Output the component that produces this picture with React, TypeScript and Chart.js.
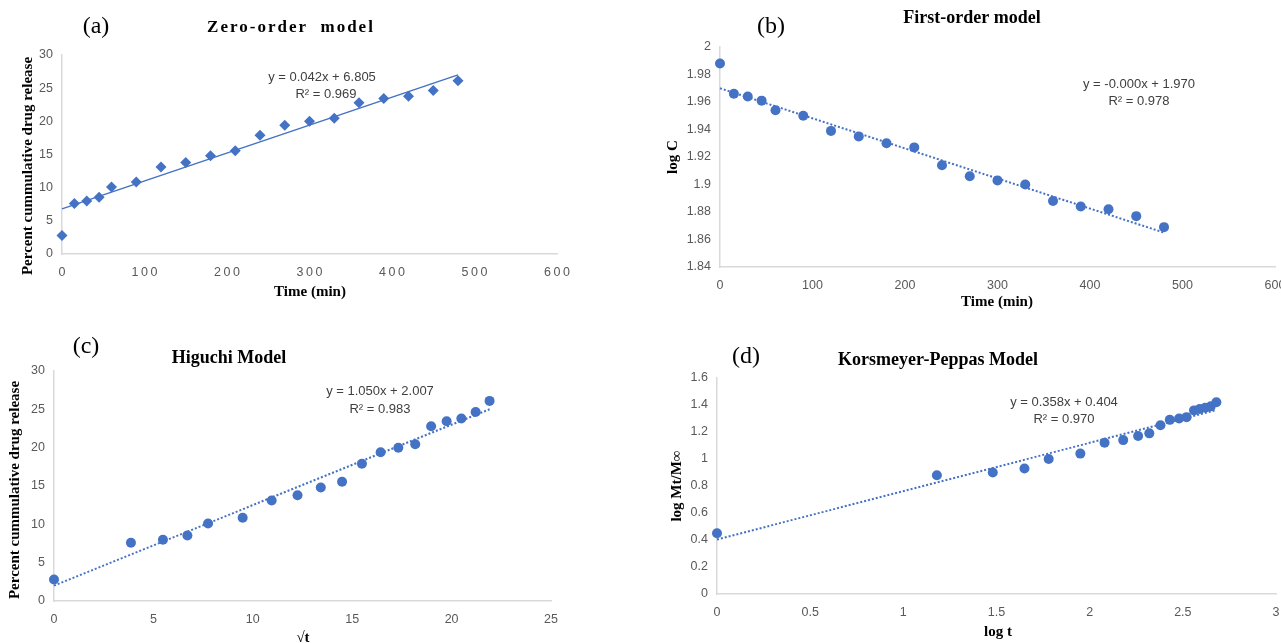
import React, { useEffect, useRef } from "react";
import { Chart, registerables } from "chart.js";

Chart.register(...registerables);

// ---------- data ----------
const timeMin = [0, 15, 30, 45, 60, 90, 120, 150, 180, 210, 240, 270, 300, 330, 360, 390, 420, 450, 480];
const releasePct = [2.8, 7.6, 8.0, 8.55, 10.1, 10.85, 13.1, 13.8, 14.8, 15.55, 17.9, 19.4, 20.0, 20.45, 22.8, 23.45, 23.8, 24.65, 26.1];
const logC = [1.988, 1.966, 1.964, 1.961, 1.954, 1.950, 1.939, 1.935, 1.930, 1.927, 1.914, 1.906, 1.903, 1.900, 1.888, 1.884, 1.882, 1.877, 1.869];
const sqrtT = [0, 3.87, 5.48, 6.71, 7.75, 9.49, 10.95, 12.25, 13.42, 14.49, 15.49, 16.43, 17.32, 18.17, 18.97, 19.75, 20.49, 21.21, 21.91];
const higuchiRelease = [2.8, 7.6, 8.0, 8.55, 10.1, 10.85, 13.1, 13.8, 14.8, 15.55, 17.9, 19.4, 20.0, 20.45, 22.8, 23.45, 23.8, 24.65, 26.1];
const logT = [0, 1.18, 1.48, 1.65, 1.78, 1.95, 2.08, 2.18, 2.26, 2.32, 2.38, 2.43, 2.48, 2.52, 2.56, 2.59, 2.62, 2.65, 2.68];
const logMtMinf = [0.45, 0.88, 0.90, 0.93, 1.0, 1.04, 1.12, 1.14, 1.17, 1.19, 1.25, 1.29, 1.30, 1.31, 1.36, 1.37, 1.38, 1.39, 1.42];

const zeroTrendX = [0, 480];
const zeroTrendY = [6.805, 27.0];
const firstTrendX = [0, 480];
const firstTrendY = [1.970, 1.865];
const higuchiTrendX = [0, 21.91];
const higuchiTrendY = [2.007, 25.01];
const kpTrendX = [0, 2.68];
const kpTrendY = [0.404, 1.363];

const zeroEq = ["y = 0.042x + 6.805", "R² = 0.969"];
const firstEq = ["y = -0.000x + 1.970", "R² = 0.978"];
const higuchiEq = ["y = 1.050x + 2.007", "R² = 0.983"];
const kpEq = ["y = 0.358x + 0.404", "R² = 0.970"];

const titles = ["Zero-order  model", "First-order model", "Higuchi Model", "Korsmeyer-Peppas Model"];
const panelLabels = ["(a)", "(b)", "(c)", "(d)"];
const xTitles = ["Time (min)", "Time (min)", "√t", "log t"];
const yTitles = ["Percent cummulative drug release", "log C", "Percent cummulative drug release", "log Mt/M∞"];

// ---------- styling ----------
const BLUE = "#4472C4";
const TICK_COLOR = "#595959";
const AXIS_COLOR = "#d9d9d9";
const SERIF = "'Liberation Serif', 'Times New Roman', serif";
const SANS = "'Liberation Sans', Arial, sans-serif";

type T = { text: string; x: number; y: number; font: string; color?: string; rotate?: boolean; spacing?: number };

type Panel = {
  left: number; top: number; width: number; height: number;
  area: { l: number; t: number; r: number; b: number };
  xMin: number; xMax: number; xStep: number;
  yMin: number; yMax: number; yStep: number;
  px: number[]; py: number[]; tx: number[]; ty: number[];
  pointStyle: string; pointRadius: number;
  dotted: boolean; spacedX?: boolean;
  texts: T[];
};

const eqFont = `13px ${SANS}`;

const panels: Panel[] = [
  {
    left: 0, top: 0, width: 640, height: 320,
    area: { l: 62, t: 55, r: 557, b: 254 },
    xMin: 0, xMax: 600, xStep: 100, yMin: 0, yMax: 30, yStep: 5,
    px: timeMin, py: releasePct, tx: zeroTrendX, ty: zeroTrendY,
    pointStyle: "rectRot", pointRadius: 5.5, dotted: false, spacedX: true,
    texts: [
      { text: panelLabels[0], x: 96, y: 27, font: `24px ${SERIF}` },
      { text: titles[0], x: 290, y: 28, font: `bold 17px ${SERIF}`, spacing: 2 },
      { text: yTitles[0], x: 28, y: 166, font: `bold 15px ${SERIF}`, rotate: true },
      { text: xTitles[0], x: 310, y: 292, font: `bold 15px ${SERIF}` },
      { text: zeroEq[0], x: 322, y: 77, font: eqFont, color: "#404040" },
      { text: zeroEq[1], x: 326, y: 94, font: eqFont, color: "#404040" },
    ],
  },
  {
    left: 640, top: 0, width: 641, height: 320,
    area: { l: 80, t: 47, r: 635, b: 267 },
    xMin: 0, xMax: 600, xStep: 100, yMin: 1.84, yMax: 2, yStep: 0.02,
    px: timeMin, py: logC, tx: firstTrendX, ty: firstTrendY,
    pointStyle: "circle", pointRadius: 5, dotted: true,
    texts: [
      { text: panelLabels[1], x: 131, y: 27, font: `24px ${SERIF}` },
      { text: titles[1], x: 332, y: 18, font: `bold 18px ${SERIF}` },
      { text: yTitles[1], x: 33, y: 157, font: `bold 15px ${SERIF}`, rotate: true },
      { text: xTitles[1], x: 357, y: 302, font: `bold 15px ${SERIF}` },
      { text: firstEq[0], x: 499, y: 84, font: eqFont, color: "#404040" },
      { text: firstEq[1], x: 499, y: 101, font: eqFont, color: "#404040" },
    ],
  },
  {
    left: 0, top: 320, width: 640, height: 323,
    area: { l: 54, t: 51, r: 551, b: 281 },
    xMin: 0, xMax: 25, xStep: 5, yMin: 0, yMax: 30, yStep: 5,
    px: sqrtT, py: higuchiRelease, tx: higuchiTrendX, ty: higuchiTrendY,
    pointStyle: "circle", pointRadius: 5, dotted: true,
    texts: [
      { text: panelLabels[2], x: 86, y: 27, font: `24px ${SERIF}` },
      { text: titles[2], x: 229, y: 38, font: `bold 18px ${SERIF}` },
      { text: yTitles[2], x: 15, y: 170, font: `bold 15px ${SERIF}`, rotate: true },
      { text: xTitles[2], x: 303, y: 318, font: `bold 15px ${SERIF}` },
      { text: higuchiEq[0], x: 380, y: 71, font: eqFont, color: "#404040" },
      { text: higuchiEq[1], x: 380, y: 89, font: eqFont, color: "#404040" },
    ],
  },
  {
    left: 640, top: 320, width: 641, height: 323,
    area: { l: 77, t: 58, r: 640, b: 274 },
    xMin: 0, xMax: 3, xStep: 0.5, yMin: 0, yMax: 1.6, yStep: 0.2,
    px: logT, py: logMtMinf, tx: kpTrendX, ty: kpTrendY,
    pointStyle: "circle", pointRadius: 5, dotted: true,
    texts: [
      { text: panelLabels[3], x: 106, y: 37, font: `24px ${SERIF}` },
      { text: titles[3], x: 298, y: 40, font: `bold 18px ${SERIF}` },
      { text: yTitles[3], x: 37, y: 166, font: `bold 15px ${SERIF}`, rotate: true },
      { text: xTitles[3], x: 358, y: 312, font: `bold 15px ${SERIF}` },
      { text: kpEq[0], x: 424, y: 82, font: eqFont, color: "#404040" },
      { text: kpEq[1], x: 424, y: 99, font: eqFont, color: "#404040" },
    ],
  },
];

function buildChart(canvas: HTMLCanvasElement, p: Panel) {
  const X_H = 30;
  const textPlugin = {
    id: "panelTexts",
    afterDraw(chart: any) {
      const ctx = chart.ctx as CanvasRenderingContext2D;
      for (const t of p.texts) {
        ctx.save();
        ctx.font = t.font;
        ctx.fillStyle = t.color || "#000";
        ctx.textAlign = "center";
        ctx.textBaseline = "middle";
        (ctx as any).letterSpacing = (t.spacing || 0) + "px";
        if (t.rotate) {
          ctx.translate(t.x, t.y);
          ctx.rotate(-Math.PI / 2);
          ctx.fillText(t.text, 0, 0);
        } else {
          ctx.fillText(t.text, t.x + (t.spacing ? t.spacing / 2 : 0), t.y);
        }
        ctx.restore();
      }
    },
  };

  const pts = p.px.map((x, i) => ({ x, y: p.py[i] }));
  const trend = p.tx.map((x, i) => ({ x, y: p.ty[i] }));
  const tickFont = { family: SANS, size: 12.5 };

  return new Chart(canvas, {
    type: "scatter",
    data: {
      datasets: [
        {
          data: trend,
          showLine: true,
          pointRadius: 0,
          borderColor: BLUE,
          borderWidth: p.dotted ? 2 : 1.5,
          borderDash: p.dotted ? [2, 2] : [],
          fill: false,
          clip: false,
        } as any,
        {
          data: pts,
          showLine: false,
          pointStyle: p.pointStyle,
          pointRadius: p.pointRadius,
          backgroundColor: BLUE,
          borderColor: BLUE,
          borderWidth: 0,
          clip: false,
        } as any,
      ],
    },
    options: {
      animation: false,
      responsive: false,
      devicePixelRatio: 1,
      events: [],
      layout: {
        padding: {
          left: 0,
          top: p.area.t,
          right: p.width - p.area.r,
          bottom: p.height - p.area.b - X_H,
        },
      },
      plugins: { legend: { display: false }, tooltip: { enabled: false }, title: { display: false } },
      scales: {
        x: {
          type: "linear",
          min: p.xMin,
          max: p.xMax,
          grid: { display: false, drawTicks: false },
          border: { display: true, color: AXIS_COLOR, width: 1.5 },
          ticks: {
            stepSize: p.xStep,
            color: TICK_COLOR,
            font: tickFont,
            padding: 11,
            maxRotation: 0,
            autoSkip: false,
            callback: (v: any) => {
              const s = String(Math.round(Number(v) * 100) / 100);
              return p.spacedX ? s.split("").join("\u2009") : s;
            },
          },
          afterFit: (s: any) => {
            s.height = X_H;
            s.paddingLeft = 0;
            s.paddingRight = 0;
          },
        },
        y: {
          type: "linear",
          min: p.yMin,
          max: p.yMax,
          grid: { display: false, drawTicks: false },
          border: { display: true, color: AXIS_COLOR, width: 1.5 },
          ticks: {
            stepSize: p.yStep,
            color: TICK_COLOR,
            font: tickFont,
            padding: 9,
            autoSkip: false,
            callback: (v: any) => String(Math.round(Number(v) * 100) / 100),
          },
          afterFit: (s: any) => {
            s.width = p.area.l;
            s.paddingTop = 0;
            s.paddingBottom = 0;
          },
        },
      },
    } as any,
    plugins: [textPlugin as any],
  });
}

function PanelChart({ p }: { p: Panel }) {
  const ref = useRef<HTMLCanvasElement | null>(null);
  useEffect(() => {
    if (!ref.current) return;
    const chart = buildChart(ref.current, p);
    return () => chart.destroy();
  }, [p]);
  return (
    <canvas
      ref={ref}
      width={p.width}
      height={p.height}
      style={{ position: "absolute", left: p.left, top: p.top, width: p.width, height: p.height, display: "block" }}
    />
  );
}

export default function App() {
  useEffect(() => {
    document.body.style.margin = "0";
    document.body.style.background = "#ffffff";
  }, []);
  return (
    <div style={{ position: "relative", width: 1281, height: 643, overflow: "hidden", background: "#fff" }}>
      {panels.map((p, i) => (
        <PanelChart key={i} p={p} />
      ))}
    </div>
  );
}
